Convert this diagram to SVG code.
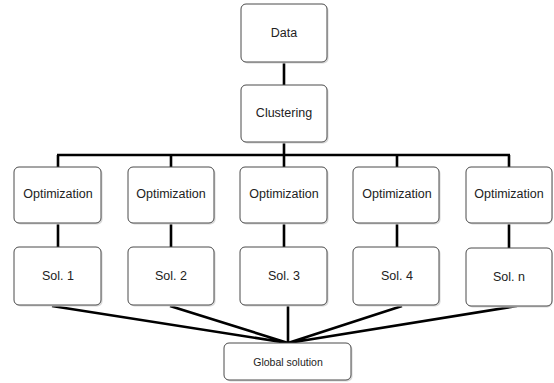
<svg xmlns="http://www.w3.org/2000/svg" width="554" height="383" viewBox="0 0 554 383">
<style>
.box{fill:#fff;stroke:#4a4a4a;stroke-width:1}
.sh{fill:#d8d8d8}
.t{font-family:"Liberation Sans",Arial,sans-serif;font-size:12.5px;fill:#222;text-anchor:middle;dominant-baseline:central}
.s{font-size:10.5px}
.c{stroke:#000;stroke-width:2.6;fill:none;stroke-linecap:butt}
</style>
<rect width="554" height="383" fill="#fff"/>
<g id="connectors">
<path class="c" d="M284 62V85M284 142V155M57 155H510M58 155V167M171 155V167M284 155V167M397 155V167M509 155V167"/>
<path class="c" d="M58 223V247M171 223V247M284 223V247M397 223V247M509 223V248"/>
<path class="c" d="M52 306L288 343M170 306L288 343M288 306V343M402 306L288 343M517 306L288 343"/>
</g>
<g id="data"><rect class="sh" x="242.5" y="5.5" width="86" height="58" rx="5"/><rect class="box" x="241" y="4" width="86" height="58" rx="5"/><text class="t" x="284" y="33">Data</text></g>
<g id="clustering"><rect class="sh" x="242.5" y="86.5" width="86" height="57" rx="5"/><rect class="box" x="241" y="85" width="86" height="57" rx="5"/><text class="t" x="284" y="113">Clustering</text></g>
<g id="opt1"><rect class="sh" x="15.5" y="168.5" width="87" height="56" rx="5"/><rect class="box" x="14" y="167" width="87" height="56" rx="5"/><text class="t" x="58" y="194">Optimization</text></g>
<g id="opt2"><rect class="sh" x="129.5" y="168.5" width="86" height="56" rx="5"/><rect class="box" x="128" y="167" width="86" height="56" rx="5"/><text class="t" x="171" y="194">Optimization</text></g>
<g id="opt3"><rect class="sh" x="241.5" y="168.5" width="87" height="56" rx="5"/><rect class="box" x="240" y="167" width="87" height="56" rx="5"/><text class="t" x="284" y="194">Optimization</text></g>
<g id="opt4"><rect class="sh" x="354.5" y="168.5" width="86" height="56" rx="5"/><rect class="box" x="353" y="167" width="86" height="56" rx="5"/><text class="t" x="397" y="194">Optimization</text></g>
<g id="opt5"><rect class="sh" x="467.5" y="168.5" width="85" height="56" rx="5"/><rect class="box" x="466" y="167" width="86" height="56" rx="5"/><text class="t" x="509" y="194">Optimization</text></g>
<g id="sol1"><rect class="sh" x="15.5" y="248.5" width="87" height="58" rx="5"/><rect class="box" x="14" y="247" width="87" height="58" rx="5"/><text class="t" x="58" y="276">Sol. 1</text></g>
<g id="sol2"><rect class="sh" x="129.5" y="248.5" width="86" height="58" rx="5"/><rect class="box" x="128" y="247" width="86" height="58" rx="5"/><text class="t" x="171" y="276">Sol. 2</text></g>
<g id="sol3"><rect class="sh" x="241.5" y="248.5" width="87" height="58" rx="5"/><rect class="box" x="240" y="247" width="87" height="58" rx="5"/><text class="t" x="284" y="276">Sol. 3</text></g>
<g id="sol4"><rect class="sh" x="354.5" y="248.5" width="86" height="58" rx="5"/><rect class="box" x="353" y="247" width="86" height="58" rx="5"/><text class="t" x="397" y="276">Sol. 4</text></g>
<g id="soln"><rect class="sh" x="467.5" y="249.5" width="85" height="58" rx="5"/><rect class="box" x="466" y="248" width="86" height="58" rx="5"/><text class="t" x="509" y="277">Sol. n</text></g>
<g id="global"><rect class="sh" x="225.5" y="344.5" width="127" height="37" rx="5"/><rect class="box" x="224" y="343" width="127" height="37" rx="5"/><text class="t s" x="288" y="362">Global solution</text></g>
</svg>
